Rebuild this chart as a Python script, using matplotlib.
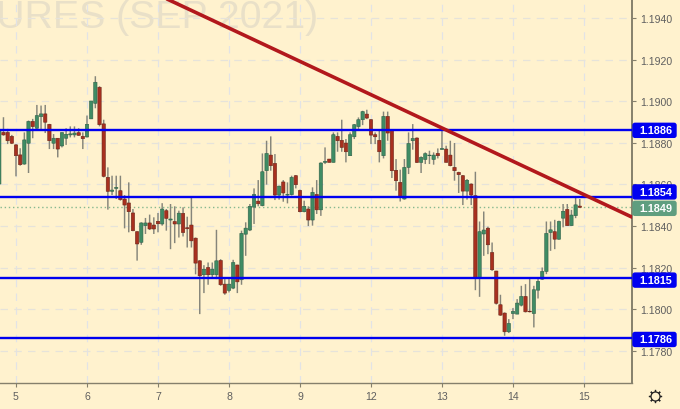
import numpy as np
from matplotlib import pyplot as plt
from matplotlib.lines import Line2D
from matplotlib.patches import FancyBboxPatch

# prices quoted x 10000
opens = [
    11860.2, 11885.0, 11885.0, 11883.1, 11879.0, 11874.2, 11869.8, 11879.8, 11890.3, 11887.0,
    11892.6, 11893.9, 11888.9, 11879.8, 11882.2, 11878.5, 11882.2, 11883.8, 11883.8, 11884.9,
    11883.1, 11882.8, 11891.5, 11899.0, 11906.7, 11889.1, 11863.4, 11856.7, 11858.1, 11857.0,
    11853.0, 11851.1, 11846.3, 11837.3, 11832.2, 11840.2, 11841.5, 11840.5, 11842.3, 11841.0,
    11847.4, 11842.9, 11842.2, 11841.0, 11846.1, 11839.2, 11840.5, 11834.2, 11823.3, 11816.6,
    11820.1, 11816.6, 11816.6, 11823.5, 11812.1, 11809.1, 11810.2, 11821.3, 11814.2, 11836.1,
    11838.1, 11849.1, 11852.0, 11849.8, 11866.6, 11874.1, 11870.1, 11854.9, 11861.2, 11854.9,
    11855.1, 11864.2, 11857.1, 11846.9, 11848.2, 11842.9, 11855.2, 11847.8, 11870.6, 11872.2,
    11870.6, 11883.1, 11881.2, 11879.9, 11873.8, 11882.9, 11887.8, 11891.1, 11893.8, 11891.1,
    11883.9, 11881.2, 11873.8, 11892.7, 11885.8, 11866.8, 11861.0, 11853.0, 11868.2, 11881.0,
    11882.3, 11870.6, 11872.0, 11873.8, 11872.0, 11874.9, 11876.8, 11877.0, 11874.1, 11868.2,
    11865.8, 11864.2, 11856.8, 11860.2, 11854.6, 11815.3, 11836.2, 11839.0, 11827.3, 11818.4,
    11802.2, 11798.2, 11789.2, 11798.0, 11797.7, 11802.0, 11806.2, 11799.1, 11798.0, 11809.2,
    11814.5, 11818.2, 11836.9, 11837.3, 11833.7, 11843.8, 11848.0, 11840.2, 11845.0, 11849.6,
]
highs = [
    11886.7, 11892.3, 11886.7, 11883.8, 11879.4, 11877.4, 11885.0, 11890.7, 11891.5, 11898.2,
    11897.9, 11898.2, 11889.1, 11884.2, 11882.2, 11885.0, 11887.0, 11887.9, 11887.9, 11887.0,
    11885.0, 11893.1, 11900.1, 11912.0, 11907.2, 11891.1, 11868.2, 11864.2, 11864.2, 11864.2,
    11854.9, 11861.0, 11848.2, 11837.5, 11841.8, 11843.9, 11845.5, 11844.2, 11846.3, 11851.0,
    11848.2, 11850.6, 11849.5, 11847.4, 11849.0, 11844.5, 11854.3, 11834.5, 11823.6, 11821.2,
    11822.5, 11822.5, 11838.2, 11824.1, 11814.5, 11814.5, 11823.8, 11821.4, 11837.8, 11841.8,
    11850.6, 11858.1, 11862.1, 11874.9, 11881.0, 11883.1, 11874.6, 11859.4, 11862.1, 11861.0,
    11864.2, 11864.5, 11857.5, 11852.2, 11849.5, 11858.6, 11862.1, 11870.6, 11877.8, 11872.2,
    11885.0, 11885.0, 11891.1, 11881.8, 11885.0, 11889.0, 11892.2, 11895.4, 11895.9, 11891.4,
    11885.0, 11886.6, 11895.0, 11895.0, 11886.6, 11872.2, 11867.1, 11872.2, 11885.0, 11889.0,
    11882.6, 11873.5, 11875.4, 11876.2, 11875.4, 11877.3, 11887.4, 11878.6, 11881.0, 11879.9,
    11866.1, 11864.5, 11862.6, 11860.5, 11866.1, 11842.2, 11847.0, 11839.7, 11832.1, 11818.5,
    11807.0, 11798.5, 11795.3, 11800.6, 11804.9, 11811.3, 11812.1, 11814.8, 11811.3, 11814.8,
    11820.1, 11842.2, 11842.2, 11843.0, 11842.6, 11850.6, 11850.6, 11847.8, 11854.3, 11853.0,
]
lows = [
    11859.7, 11883.4, 11879.4, 11879.4, 11863.9, 11869.0, 11869.5, 11865.5, 11882.2, 11886.7,
    11885.9, 11884.7, 11877.0, 11877.0, 11873.0, 11877.8, 11879.0, 11882.6, 11882.6, 11883.4,
    11877.0, 11882.6, 11891.5, 11896.6, 11887.9, 11863.4, 11847.9, 11854.9, 11853.0, 11852.2,
    11838.9, 11837.0, 11837.5, 11823.4, 11831.0, 11836.2, 11838.1, 11836.2, 11837.0, 11840.2,
    11837.8, 11828.9, 11831.8, 11834.5, 11835.0, 11829.7, 11829.7, 11816.8, 11797.7, 11807.8,
    11811.8, 11814.8, 11814.5, 11811.3, 11807.0, 11808.1, 11809.7, 11807.8, 11811.8, 11825.7,
    11837.6, 11841.0, 11849.5, 11849.5, 11859.9, 11866.6, 11852.5, 11852.7, 11851.7, 11850.9,
    11854.7, 11858.1, 11846.6, 11846.6, 11840.0, 11840.2, 11845.8, 11844.9, 11869.8, 11870.6,
    11870.6, 11875.7, 11875.7, 11870.6, 11873.8, 11881.8, 11885.8, 11888.5, 11891.4, 11879.4,
    11879.4, 11870.6, 11872.5, 11881.0, 11863.1, 11857.0, 11851.8, 11852.7, 11865.0, 11876.7,
    11870.3, 11865.5, 11869.8, 11869.8, 11869.5, 11872.5, 11876.7, 11870.6, 11868.7, 11861.8,
    11855.9, 11850.1, 11852.7, 11850.1, 11809.2, 11806.0, 11825.7, 11826.5, 11818.5, 11802.3,
    11796.9, 11787.3, 11788.6, 11795.3, 11797.7, 11801.4, 11798.5, 11798.5, 11791.3, 11805.2,
    11814.2, 11816.9, 11828.1, 11828.9, 11833.4, 11839.4, 11840.2, 11840.2, 11843.8, 11848.8,
]
closes = [
    11885.9, 11883.8, 11881.0, 11879.8, 11873.8, 11869.5, 11881.4, 11890.3, 11887.8, 11893.1,
    11893.9, 11889.9, 11881.0, 11882.2, 11877.0, 11884.9, 11884.1, 11884.3, 11884.7, 11883.6,
    11882.0, 11888.9, 11900.1, 11909.1, 11888.7, 11863.9, 11856.7, 11857.3, 11858.6, 11852.7,
    11850.1, 11846.9, 11837.8, 11831.4, 11841.5, 11841.5, 11838.6, 11838.6, 11841.1, 11848.2,
    11843.7, 11843.4, 11841.0, 11846.2, 11836.9, 11838.7, 11832.9, 11822.2, 11816.1, 11819.3,
    11816.6, 11819.3, 11823.3, 11811.8, 11807.8, 11812.1, 11822.5, 11813.2, 11836.5, 11839.0,
    11849.5, 11855.2, 11850.7, 11866.1, 11874.9, 11869.0, 11854.9, 11859.2, 11855.9, 11855.2,
    11863.4, 11859.9, 11846.9, 11849.5, 11842.9, 11856.2, 11847.8, 11870.3, 11871.1, 11870.6,
    11883.9, 11881.0, 11877.8, 11875.7, 11883.9, 11888.7, 11891.1, 11895.0, 11891.9, 11883.7,
    11882.9, 11875.7, 11892.7, 11884.7, 11866.6, 11861.8, 11853.8, 11868.2, 11879.7, 11882.1,
    11870.6, 11873.0, 11874.8, 11874.1, 11874.1, 11873.8, 11877.3, 11870.6, 11869.0, 11866.6,
    11864.7, 11856.8, 11862.0, 11854.9, 11815.3, 11837.3, 11838.1, 11831.0, 11819.0, 11802.9,
    11797.2, 11789.2, 11793.2, 11799.0, 11803.0, 11806.2, 11798.8, 11798.8, 11809.4, 11813.4,
    11818.2, 11836.5, 11838.2, 11833.7, 11842.2, 11847.1, 11840.2, 11845.3, 11850.2, 11849.0,
]

levels = [1.1886, 1.1854, 1.1815, 1.1786]
last_price = 1.1849
price_ticks = [1.1780, 1.1800, 1.1820, 1.1840, 1.1860, 1.1880, 1.1900, 1.1920, 1.1940]
day_labels = ['5', '6', '7', '8', '9', '12', '13', '14', '15']
day_candles = [4, 21, 38, 55, 72, 89, 106, 123, 140]
trend_x = [40.16, 151.5]
trend_y = [1.19491, 1.18443]

BG = '#FFF2CE'
AXIS = '#85806C'
TEXT = '#5F5F5F'
RED = '#A8301F'
GREEN = '#3F8C64'
FONT = 'Liberation Sans'

o = np.array(opens) / 10000
h = np.array(highs) / 10000
l = np.array(lows) / 10000
c = np.array(closes) / 10000
x = np.arange(len(o))
up = c >= o

W, H = 680, 410
fig = plt.figure(figsize=(W / 100, H / 100), dpi=100, facecolor=BG)
ax = fig.add_axes([0, 26 / H, 632 / W, 384 / H], facecolor=BG)
ax.set_xlim(0.17, 151.5)
ax.set_ylim(1.17646, 1.19491)

for s in ['top', 'left']:
    ax.spines[s].set_visible(False)
for s in ['right', 'bottom']:
    ax.spines[s].set_color(AXIS)
ax.spines['right'].set_linewidth(1.4)
ax.spines['bottom'].set_linewidth(1.0)

ax.yaxis.tick_right()
ax.set_yticks(price_ticks, ['%.4f' % p for p in price_ticks], fontsize=7.6, family=FONT, color=TEXT)
ax.set_xticks(day_candles, day_labels, fontsize=7.6, family=FONT, color=TEXT)
ax.tick_params(axis='y', length=3, width=0.8, color=AXIS, pad=3)
ax.tick_params(axis='x', length=3, width=0.8, color=AXIS, pad=3)
ax.grid(axis='y', color='#E6E3DA', lw=0.9, ls=(0, (6, 5)), zorder=0)
ax.grid(axis='x', color='#E2E3E6', lw=0.9, ls=(0, (6, 5)), zorder=0)

ax.text(318 / 632, (384 - 28) / 384, 'FUTURES (SEP 2021)', transform=ax.transAxes,
        ha='right', va='baseline', fontsize=28.3, family=FONT, color='#E9E0C8', zorder=1, clip_on=True)

ax.axhline(last_price, color='#86B88F', lw=1, ls=(0, (1, 2)), zorder=2)

ax.vlines(x, l, h, color='#85857A', lw=1.05, zorder=3, snap=False)
ax.bar(x[up], (c - o)[up], bottom=o[up], width=0.8, color=GREEN, edgecolor='#2F5F48', lw=0.4, zorder=4, snap=False)
ax.bar(x[~up], (o - c)[~up], bottom=c[~up], width=0.8, color=RED, edgecolor='#6A2419', lw=0.4, zorder=4, snap=False)

for lv in levels:
    ax.axhline(lv, color='#0000F0', lw=1.7, zorder=5)
ax.plot(trend_x, trend_y, color='#B2181C', lw=2.6, zorder=6, solid_capstyle='round')


# price tags on the right axis
def add_tag(price, color, shift=0):
    py = ax.transData.transform((0, price))[1] + shift
    box = FancyBboxPatch((633, py - 7), 43, 14, boxstyle='round,pad=0,rounding_size=2',
                         fc=color, ec=color, lw=1, transform=None, zorder=5)
    fig.add_artist(box)
    fig.text(656 / W, py / H, '%.4f' % price, ha='center', va='center', color='white',
             fontsize=7.8, fontweight='bold', family=FONT, zorder=6)


add_tag(levels[0], '#0000F0')
add_tag(levels[1], '#0000F0', shift=5)
add_tag(last_price, '#5F9E7F', shift=-1)
add_tag(levels[2], '#0000F0', shift=-2)
add_tag(levels[3], '#0000F0', shift=-1)

# settings icon
icon = (655 / W, 13 / H)
fig.add_artist(Line2D([icon[0]], [icon[1]], marker=(8, 2, 0), ms=9.5, mew=0.9, color='#222222',
                      transform=fig.transFigure))
fig.add_artist(Line2D([icon[0]], [icon[1]], marker='o', ms=6.5, mew=0.9, mfc=BG, mec='#222222',
                      transform=fig.transFigure))

fig.savefig('out.png', dpi=100, facecolor=BG)
